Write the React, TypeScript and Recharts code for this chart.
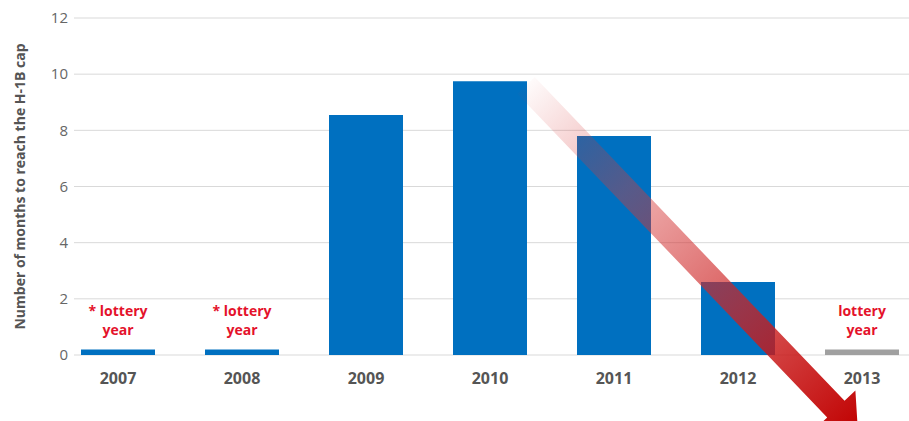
import React from 'react';
import {
  BarChart,
  Bar,
  XAxis,
  YAxis,
  CartesianGrid,
  Cell,
  LabelList,
  Label,
  ReferenceLine
} from 'recharts';

const years = ['2007', '2008', '2009', '2010', '2011', '2012', '2013'];
const monthsToCap = [0.2, 0.2, 8.55, 9.75, 7.8, 2.6, 0.2];
const notes = ['* lottery|year', '* lottery|year', '', '', '', '', 'lottery|year'];
const grayYears = ['2013'];
const yTicks = [0, 2, 4, 6, 8, 10, 12];

const chartData = years.map((year, i) => ({
  year,
  months: monthsToCap[i],
  note: notes[i]
}));

const FONT = '"Open Sans", "Noto Sans", sans-serif';

const NoteLabel = (props: any) => {
  const { x, y, width, value } = props;
  if (!value) return null;
  const lines = String(value).split('|');
  const cx = Number(x) + Number(width) / 2;
  const top = Number(y) - 33;
  return (
    <g>
      {lines.map((line, i) => (
        <text key={i} x={cx} y={top + i * 19} textAnchor="middle" fill="#e4122b" fontSize={14} fontWeight={700} fontFamily={FONT}>
          {line}
        </text>
      ))}
    </g>
  );
};

// big red trend arrow, fading in from the 2010 bar
const TrendArrow = (props: any) => {
  const { x1, y1, x2, y2 } = props;
  const sx = x1 + 36, sy = y1, ex = x2 - 4, ey = y2;
  const len = Math.hypot(ex - sx, ey - sy);
  const ux = (ex - sx) / len, uy = (ey - sy) / len;
  const nx = -uy, ny = ux;
  const sw = 12, hw = 27, hl = 32;
  const bx = ex - ux * hl, by = ey - uy * hl;
  const pts = [
    [sx + nx * sw, sy + ny * sw],
    [bx + nx * sw, by + ny * sw],
    [bx + nx * hw, by + ny * hw],
    [ex, ey],
    [bx - nx * hw, by - ny * hw],
    [bx - nx * sw, by - ny * sw],
    [sx - nx * sw, sy - ny * sw]
  ].map(p => p.join(',')).join(' ');
  return (
    <g>
      <defs>
        <linearGradient id="arrowGrad" gradientUnits="userSpaceOnUse" x1={sx} y1={sy} x2={ex} y2={ey}>
          <stop offset="0" stopColor="#d52b2b" stopOpacity={0.02} />
          <stop offset="0.3" stopColor="#d63a3a" stopOpacity={0.4} />
          <stop offset="0.65" stopColor="#cc2222" stopOpacity={0.75} />
          <stop offset="1" stopColor="#c00000" stopOpacity={1} />
        </linearGradient>
      </defs>
      <polygon points={pts} fill="url(#arrowGrad)" />
    </g>
  );
};

const YTitle = (props: any) => {
  const { viewBox } = props;
  const cy = viewBox.y + viewBox.height / 2;
  return (
    <text x={25} y={cy} transform={`rotate(-90, 25, ${cy})`} textAnchor="middle" fill="#555555" fontSize={14} fontWeight={700} fontFamily={FONT}>
      Number of months to reach the H-1B cap
    </text>
  );
};

export default function App() {
  return (
    <div style={{ position: 'absolute', left: 0, top: 0, width: 909, height: 421, overflow: 'hidden', background: '#fff' }}>
      <BarChart width={924} height={421} data={chartData} margin={{ top: 18, right: 0, bottom: 26, left: 0 }}>
        <CartesianGrid vertical={false} stroke="#d9d9d9" />
        <XAxis
          dataKey="year"
          padding={{ left: -18, right: 0 }}
          axisLine={false}
          tickLine={false}
          height={40}
          tickMargin={12}
          tick={{ fill: '#555555', fontSize: 16, fontWeight: 700, fontFamily: FONT }}
        />
        <YAxis
          domain={[0, 12]}
          ticks={yTicks}
          width={74}
          axisLine={false}
          tickLine={false}
          tickMargin={0}
          tick={{ fill: '#666666', fontSize: 15, fontFamily: FONT }}
        >
          <Label content={<YTitle />} position="insideLeft" />
        </YAxis>
        <Bar dataKey="months" barSize={74} isAnimationActive={false}>
          {chartData.map((d, i) => (
            <Cell key={`c-${i}`} fill={grayYears.includes(d.year) ? '#a0a0a0' : '#0070c0'} />
          ))}
          <LabelList dataKey="note" content={<NoteLabel />} />
        </Bar>
        <ReferenceLine
          segment={[{ x: '2010', y: 9.6 }, { x: '2013', y: -2.75 }]}
          ifOverflow="visible"
          shape={<TrendArrow />}
        />
      </BarChart>
    </div>
  );
}
